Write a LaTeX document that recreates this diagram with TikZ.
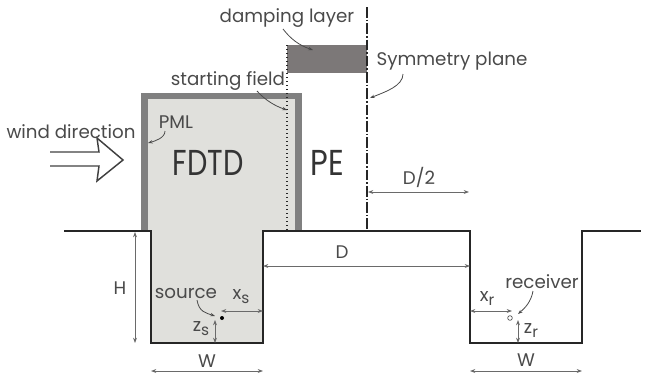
\documentclass[tikz,border=0pt]{standalone}
\usepackage{fontspec}
\setmainfont{Poppins}
\usetikzlibrary{arrows.meta}
\definecolor{txt}{HTML}{4A4A4A}
\definecolor{band}{HTML}{808080}
\definecolor{dampc}{HTML}{7C7878}
\definecolor{fdtdc}{HTML}{E0E0DC}
\definecolor{dimc}{HTML}{6A6A6A}
\newcommand{\subtxt}[2]{#1\raisebox{-3pt}{\fontsize{11.5}{13}\selectfont #2}}
\tikzset{
 lab/.style={inner sep=0pt,text=txt,font=\fontsize{13.7}{16}\selectfont},
 big/.style={inner sep=0pt,text=txt!70!black,font=\fontsize{27}{30}\selectfont},
 dimline/.style={draw=dimc,line width=0.7pt,{Stealth[length=4pt,width=3pt]}-{Stealth[length=4pt,width=3pt]}},
 leader/.style={draw=txt,line width=0.6pt,-{Stealth[length=3.5pt,width=2.5pt]}},
 ground/.style={draw=black!85,line width=1.6pt,line cap=rect,line join=miter}
}
\begin{document}
\begin{tikzpicture}[x=0.75pt,y=-0.75pt]
\useasboundingbox (0,0) rectangle (650,375);
% FDTD domain
\fill[fdtdc] (147,99) rectangle (295,231);
\fill[fdtdc] (151,231) rectangle (263,343);
% PML band
\fill[band] (141,92.5) rectangle (302,99);
\fill[band] (141,92.5) rectangle (147.5,231);
\fill[band] (295,92.5) rectangle (302,231);
% damping layer
\fill[dampc] (287,45) rectangle (367,73);
% starting field and symmetry plane
\coordinate (sfT) at (287,45); \coordinate (sfB) at (287,231);
\coordinate (spT) at (367,7); \coordinate (spB) at (367,231);
\draw[black!85,line width=1pt,dotted] (sfT)--(sfB);
\draw[black!85,line width=1pt,dash pattern=on 8pt off 1.5pt on 1.2pt off 1.5pt] (spT)--(spB);
% ground
\coordinate (g0) at (65,231); \coordinate (g1) at (151,231); \coordinate (g2) at (151,343);
\coordinate (g3) at (263,343); \coordinate (g4) at (263,231); \coordinate (g5) at (470,231);
\coordinate (g6) at (470,343); \coordinate (g7) at (582,343); \coordinate (g8) at (582,231);
\coordinate (g9) at (640,231);
\draw[ground] (g0)--(g1)--(g2)--(g3)--(g4)--(g5)--(g6)--(g7)--(g8)--(g9);
% wind arrow
\draw[black!75,line width=1.1pt,line join=miter] (50,152)--(99,152)--(97,138)--(123,160)--(97,181)--(99,166)--(50,166);
% dimensions
\coordinate (Ha) at (135,232); \coordinate (Hb) at (135,343);
\coordinate (W1a) at (151,371); \coordinate (W1b) at (263,371);
\coordinate (W2a) at (470,371); \coordinate (W2b) at (582,371);
\coordinate (Da) at (263,266); \coordinate (Db) at (470,266);
\coordinate (D2a) at (368,192); \coordinate (D2b) at (469,192);
\coordinate (xsa) at (221,311); \coordinate (xsb) at (263,311);
\coordinate (zsa) at (215,320); \coordinate (zsb) at (215,343);
\coordinate (xra) at (470,311); \coordinate (xrb) at (512,311);
\coordinate (zra) at (518,320); \coordinate (zrb) at (518,343);
\draw[dimline] (Ha)--(Hb);
\draw[dimline] (W1a)--(W1b);
\draw[dimline] (W2a)--(W2b);
\draw[dimline] (Da)--(Db);
\draw[dimline] (D2a)--(D2b);
\draw[dimline] (xsa)--(xsb);
\draw[dimline] (zsa)--(zsb);
\draw[dimline] (xra)--(xrb);
\draw[dimline] (zra)--(zrb);
% source, receiver
\node[circle,fill=black,inner sep=0pt,minimum size=3pt] (src) at (222,318) {};
\node[circle,draw=txt,line width=0.5pt,inner sep=0pt,minimum size=3.5pt] (rcv) at (510,318) {};
% labels
\node[lab] (damp) at (287,18) {damping layer};
\node[lab] (start) at (228,81) {starting field};
\node[lab] (sym) at (452,61) {Symmetry plane};
\node[lab] (wind) at (71,132) {wind direction};
\node[lab] (pml) at (176,122) {PML};
\node[big] (fdtd) at (208,163) {\scalebox{0.8}[1]{FDTD}};
\node[big] (pe) at (327,163) {\scalebox{0.85}[1]{PE}};
\node[lab] (d2) at (419,177) {D/2};
\node[lab] (d) at (342,252) {D};
\node[lab] (h) at (120,288) {H};
\node[lab] (source) at (186,293) {source};
\node[lab] (receiver) at (542,282) {receiver};
\node[lab] (w1) at (207,361) {W};
\node[lab] (w2) at (526,360) {W};
\node[lab] (xs) at (241,297) {\subtxt{x}{s}};
\node[lab] (zs) at (201,329) {\subtxt{z}{s}};
\node[lab] (xr) at (487,298) {\subtxt{x}{r}};
\node[lab] (zr) at (531,330) {\subtxt{z}{r}};
% leaders
\coordinate (lDamp) at (313,50); \coordinate (lStart) at (287,110);
\coordinate (lSym) at (370,98); \coordinate (lPml) at (148,143);
\coordinate (lSrc) at (215,316); \coordinate (lRcv) at (518,314);
\draw[leader] (283,29) .. controls (290,38) and (298,45) .. (lDamp);
\draw[leader] (257,91) .. controls (265,100) and (275,106) .. (lStart);
\draw[leader] (403,74) .. controls (403,86) and (385,92) .. (lSym);
\draw[leader] (165,131) .. controls (165,138) and (155,141) .. (lPml);
\draw[leader] (197,300) .. controls (199,312) and (206,313) .. (lSrc);
\draw[leader] (533,291) .. controls (531,302) and (525,308) .. (lRcv);
\end{tikzpicture}
\end{document}
